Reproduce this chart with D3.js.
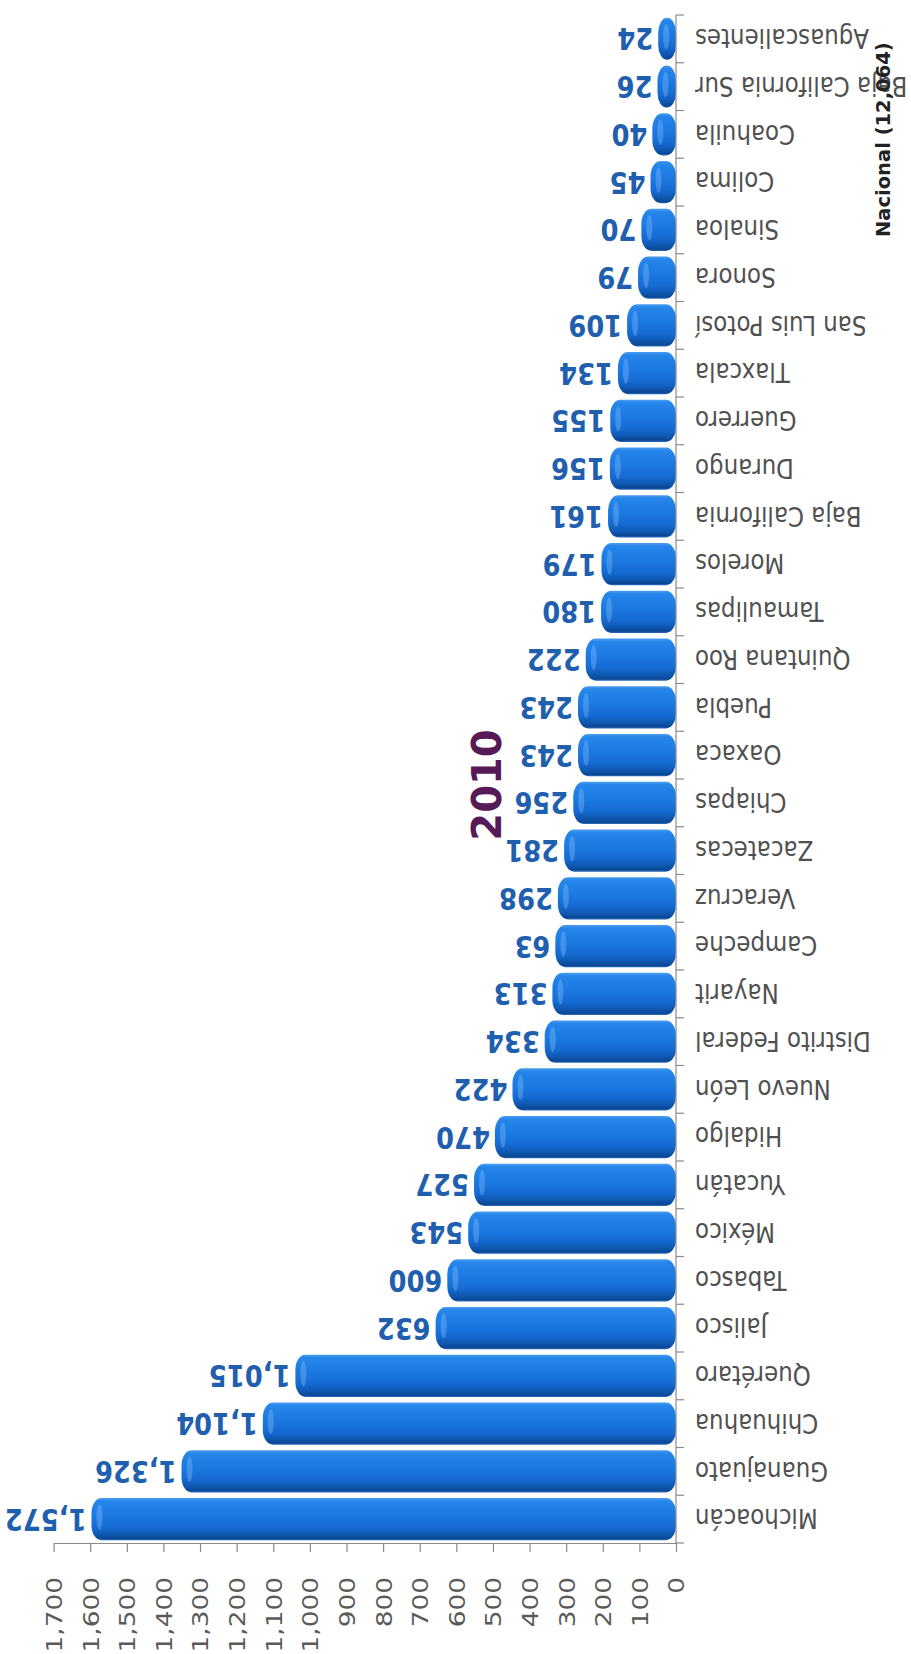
<!DOCTYPE html>
<html>
<head>
<meta charset="utf-8">
<script src="https://d3js.org/d3.v7.min.js"></script>
<style>
body { margin: 0; background: #fff; }
svg { display: block; }
</style>
</head>
<body>
<svg width="911" height="1654"></svg>
<script>
// data, Michoacán first (bottom of the picture)
var states = ["Michoacán","Guanajuato","Chihuahua","Querétaro","Jalisco","Tabasco","México","Yucatán",
  "Hidalgo","Nuevo León","Distrito Federal","Nayarit","Campeche","Veracruz","Zacatecas","Chiapas",
  "Oaxaca","Puebla","Quintana Roo","Tamaulipas","Morelos","Baja California","Durango","Guerrero",
  "Tlaxcala","San Luis Potosí","Sonora","Sinaloa","Colima","Coahuila","Baja California Sur","Aguascalientes"];
var values = [1572,1326,1104,1015,632,600,543,527,470,422,334,313,305,298,281,256,
  243,243,222,180,179,161,156,155,134,109,79,70,45,40,26,24];
var valueLabels = ["1,572","1,326","1,104","1,015","632","600","543","527","470","422","334","313","63","298","281","256",
  "243","243","222","180","179","161","156","155","134","109","79","70","45","40","26","24"];
var ticks = [0,100,200,300,400,500,600,700,800,900,1000,1100,1200,1300,1400,1500,1600,1700];
var title = "2010";
var subtitle = "Nacional (12,064)";

var svg = d3.select("svg");

// scales
var x = d3.scaleLinear().domain([0, 1700]).range([676, 53.6]);
var y = d3.scaleBand().domain(states).range([1543, 15]).paddingInner(0.12).paddingOuter(0.06);

// gradient for the cylinders
var defs = svg.append("defs");
var grad = defs.append("linearGradient").attr("id", "cyl")
  .attr("x1", 0).attr("y1", 0).attr("x2", 0).attr("y2", 1);
[[0, "#4a9cf0"], [0.07, "#2686ea"], [0.45, "#1a78e0"], [0.7, "#156ad1"],
 [0.88, "#0e55ad"], [0.96, "#0a4793"], [1, "#2a6cc0"]].forEach(function(s) {
  grad.append("stop").attr("offset", s[0]).attr("stop-color", s[1]);
});

// title
svg.append("text")
  .attr("transform", "translate(487,785) rotate(-90)")
  .attr("dy", "0.36em")
  .attr("text-anchor", "middle")
  .style("font-family", "DejaVu Sans, sans-serif")
  .style("font-weight", "bold")
  .style("font-size", "40px")
  .style("fill", "#561a56")
  .text(title);

// bars
var bars = svg.append("g").selectAll("g").data(states).enter().append("g");
bars.append("rect")
  .attr("x", function(d, i) { return x(values[i]) - 9; })
  .attr("y", function(d) { return y(d); })
  .attr("width", function(d, i) { return x(0) - x(values[i]) + 9; })
  .attr("height", y.bandwidth())
  .attr("rx", 10).attr("ry", 15)
  .attr("fill", "url(#cyl)");
bars.append("ellipse")
  .attr("cx", function(d, i) { return x(values[i]) - 1; })
  .attr("cy", function(d) { return y(d) + y.bandwidth() * 0.45; })
  .attr("rx", 3)
  .attr("ry", y.bandwidth() * 0.3)
  .attr("fill", "#8cc4ff").attr("opacity", 0.35);

// value labels (upside down)
svg.append("g").selectAll("text").data(states).enter().append("text")
  .attr("transform", function(d, i) {
    return "translate(" + (x(values[i]) - 14) + "," + (y(d) + y.bandwidth() / 2) + ") rotate(180) scale(0.86,1)";
  })
  .attr("y", 10.5)
  .style("font-family", "DejaVu Sans, sans-serif")
  .style("font-weight", "bold")
  .style("font-size", "30px")
  .style("fill", "#1f5fae")
  .text(function(d, i) { return valueLabels[i]; });

// category axis
var cat = svg.append("g");
var step = y.step(), r = y.range();
cat.append("line")
  .attr("x1", x(0)).attr("x2", x(0))
  .attr("y1", r[1]).attr("y2", r[0])
  .attr("stroke", "#8a8a8a").attr("stroke-width", 1.2);
cat.selectAll("line.tk").data(d3.range(states.length + 1)).enter().append("line")
  .attr("class", "tk")
  .attr("x1", x(0)).attr("x2", x(0) + 8)
  .attr("y1", function(i) { return r[1] + i * step; })
  .attr("y2", function(i) { return r[1] + i * step; })
  .attr("stroke", "#8a8a8a").attr("stroke-width", 1.2);
cat.selectAll("text").data(states).enter().append("text")
  .attr("transform", function(d) {
    return "translate(695," + (y(d) + y.bandwidth() / 2) + ") rotate(180) scale(0.85,1)";
  })
  .attr("y", 9.8)
  .attr("text-anchor", "end")
  .style("font-family", "DejaVu Sans, sans-serif")
  .style("font-size", "27px")
  .style("fill", "#505050")
  .text(function(d) { return d; });

// value axis
var ax = svg.append("g")
  .attr("transform", "translate(0," + r[0] + ")")
  .call(d3.axisBottom(x).tickValues(ticks).tickFormat(d3.format(",")).tickSize(9).tickSizeOuter(0));
ax.select(".domain").attr("stroke", "#8a8a8a").attr("stroke-width", 1.2);
ax.selectAll(".tick line").attr("stroke", "#8a8a8a").attr("stroke-width", 1.2);
ax.selectAll(".tick text")
  .attr("x", 0).attr("y", 0).attr("dy", "0.36em")
  .attr("text-anchor", "end")
  .attr("transform", "translate(0,34) rotate(-90) scale(1.2,1)")
  .style("font-family", "DejaVu Sans, sans-serif")
  .style("font-size", "22px")
  .style("fill", "#5a5a5a");

// subtitle
svg.append("text")
  .attr("transform", "translate(883,237) rotate(-90)")
  .attr("dy", "0.36em")
  .style("font-family", "DejaVu Sans, sans-serif")
  .style("font-weight", "bold")
  .style("font-size", "19.5px")
  .style("fill", "#222")
  .text(subtitle);
</script>
</body>
</html>
